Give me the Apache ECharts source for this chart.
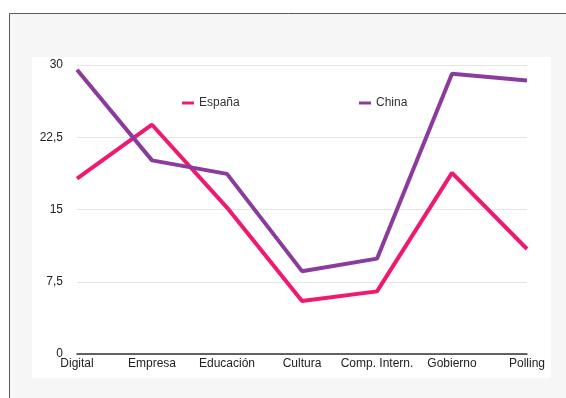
<!DOCTYPE html>
<html>
<head>
<meta charset="utf-8">
<script src="https://cdn.jsdelivr.net/npm/echarts@6/dist/echarts.min.js"></script>
<style>
  html, body { margin: 0; padding: 0; background: #fff; }
  #chart { width: 566px; height: 398px; }
</style>
</head>
<body>
<div id="chart"></div>
<script>
// data
const categories = ['Digital', 'Empresa', 'Educación', 'Cultura', 'Comp. Intern.', 'Gobierno', 'Polling'];
const espana = [18.2, 23.8, 15.2, 5.5, 6.5, 18.8, 10.9];
const china = [29.5, 20.1, 18.7, 8.6, 9.9, 29.1, 28.4];
const yTicks = { min: 0, max: 30, interval: 7.5 };

const PINK = '#ef1a70';
const PURPLE = '#8b3b9c';
const FONT = 'Liberation Sans, Arial, sans-serif';

let myChart = echarts.init(document.getElementById('chart'));

const option = {
  animation: false,
  backgroundColor: '#fff',
  graphic: [
    // framed grey card
    { type: 'rect', z: -10, shape: { x: 9.5, y: 13.5, width: 570, height: 400 },
      style: { fill: '#f6f6f6', stroke: '#5a5a5a', lineWidth: 1 } },
    // white plot panel
    { type: 'rect', z: -9, shape: { x: 32, y: 57, width: 519, height: 321 },
      style: { fill: '#ffffff' } }
  ],
  legend: [
    {
      data: ['España'], left: 177, top: 92,
      icon: 'rect', itemWidth: 12, itemHeight: 3, itemGap: 8,
      textStyle: { color: '#333', fontSize: 12, fontFamily: FONT }
    },
    {
      data: ['China'], left: 354, top: 92,
      icon: 'rect', itemWidth: 12, itemHeight: 3, itemGap: 8,
      textStyle: { color: '#333', fontSize: 12, fontFamily: FONT }
    }
  ],
  grid: { left: 77, right: 39, top: 65, bottom: 44, containLabel: false },
  xAxis: {
    type: 'category',
    data: categories,
    boundaryGap: false,
    axisLine: { show: true, lineStyle: { color: '#333', width: 1.5 } },
    axisTick: { show: false },
    axisLabel: { color: '#222', fontSize: 12, fontFamily: FONT, margin: 4, interval: 0 },
    splitLine: { show: false }
  },
  yAxis: {
    type: 'value',
    min: yTicks.min,
    max: yTicks.max,
    interval: yTicks.interval,
    axisLine: { show: false },
    axisTick: { show: false },
    axisLabel: {
      color: '#222', fontSize: 12, fontFamily: FONT, margin: 14,
      formatter: v => String(v).replace('.', ',')
    },
    splitLine: { lineStyle: { color: '#e4e4e4', width: 1 } }
  },
  series: [
    {
      name: 'España', type: 'line', data: espana,
      color: PINK, symbol: 'none',
      lineStyle: { width: 4, color: PINK }
    },
    {
      name: 'China', type: 'line', data: china,
      color: PURPLE, symbol: 'none',
      lineStyle: { width: 4, color: PURPLE }
    }
  ]
};

myChart.setOption(option, true);
</script>
</body>
</html>
